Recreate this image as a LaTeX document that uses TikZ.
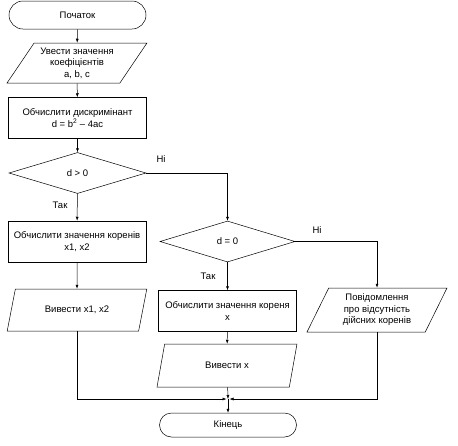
\documentclass[tikz,border=0pt]{standalone}
\usepackage{fontspec}
\setmainfont{Liberation Sans}
\usetikzlibrary{shapes.geometric,arrows.meta}

\begin{document}
\begin{tikzpicture}[
  x=1pt, y=-1pt,
  font=\fontsize{9.5}{11.5}\selectfont,
  blk/.style={draw, line width=0.5pt, fill=white, inner sep=1pt, align=center},
  term/.style={blk, rectangle, rounded corners=#1, minimum width=137pt, minimum height=2*#1},
  proc/.style={blk, rectangle, minimum width=138pt, minimum height=41pt},
  io/.style 2 args={blk, trapezium, trapezium stretches=true,
    trapezium left angle=#1, trapezium right angle=#2, minimum width=140pt},
  cond/.style={blk, diamond, minimum width=137pt, minimum height=41pt},
  flow/.style={-{Latex[length=4pt,width=3pt]}, line width=0.5pt},
  lbl/.style={font=\fontsize{9.5}{11}\selectfont}
]
\useasboundingbox (0,0) rectangle (458,445);

% left column
\node[term=14pt] (start) at (77.5,15) {Початок};
\node[io={54}{126}, minimum height=40pt] (inp) at (77,63)
  {Увести значення\\коефіцієнтів\\a, b, c};
\node[proc] (disc) at (77.5,118) {Обчислити дискримінант\\d = b\textsuperscript{2} – 4ac};
\node[cond] (dgt) at (77.5,173) {d > 0};
\node[proc] (roots2) at (77,241.5) {Обчислити значення коренів\\x1, x2};
\node[io={66}{114}, minimum height=42pt] (out2) at (77,310) {Вивести x1, x2};

% middle column
\node[cond, minimum width=135pt] (deq) at (227.5,241.5) {d = 0};
\node[proc] (root1) at (227.5,311) {Обчислити значення кореня\\x};
\node[io={72}{108}, minimum height=43pt] (out1) at (227,365.5) {Вивести x};
\node[term=12pt] (end) at (228,425) {Кінець};

% right column
\node[io={65}{115}, minimum height=44pt] (msg) at (377,310)
  {Повідомлення\\про відсутність\\дійсних коренів};

\coordinate (join) at (228,399);

\draw[flow] (start) -- (inp);
\draw[flow] (inp) -- (disc);
\draw[flow] (disc) -- (dgt);
\draw[flow] (dgt) -- (roots2);
\draw[flow] (roots2) -- (out2);
\draw[flow] (dgt.east) -| (deq.north);
\draw[flow] (deq) -- (root1);
\draw[flow] (root1) -- (out1);
\draw[flow] (deq.east) -| (msg.north);
\draw[flow, shorten >=1.5pt] (out2.south) |- (join);
\draw[flow, shorten >=1.5pt] (msg.south) |- (join);
\draw[flow] (out1) -- (join);
\draw[flow] (join) -- (end);

% branch labels
\node[lbl] (no1) at (161,159) {Ні};
\node[lbl] (yes1) at (60,205) {Так};
\node[lbl] (no2) at (317,230) {Ні};
\node[lbl] (yes2) at (208,276) {Так};
\end{tikzpicture}
\end{document}
